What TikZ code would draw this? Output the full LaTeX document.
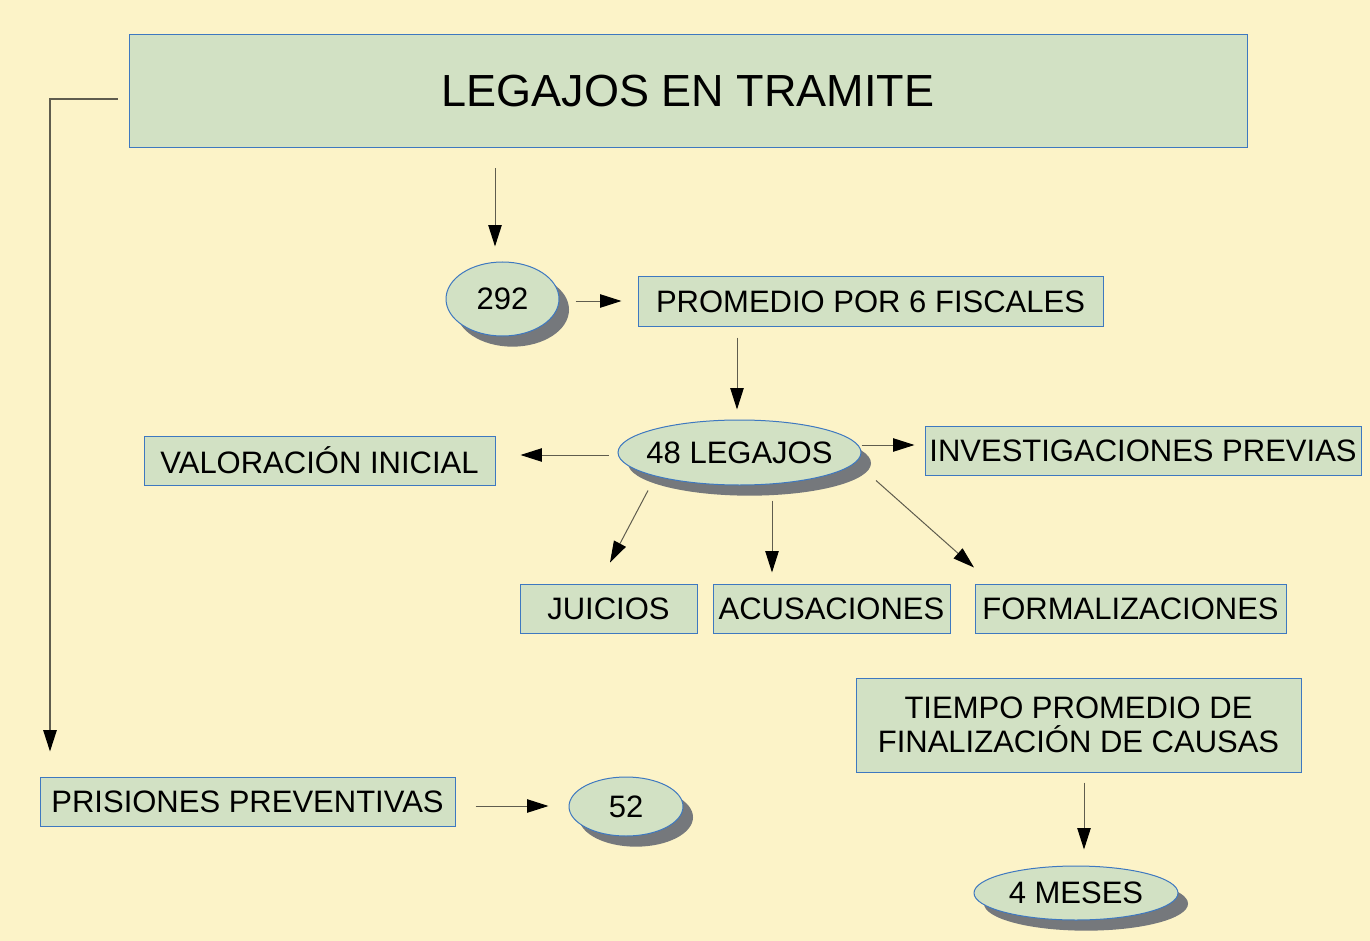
\documentclass[tikz,border=0pt]{standalone}
\usepackage{fontspec}
\setmainfont{Liberation Sans}
\usepackage{tikz}
\usetikzlibrary{arrows.meta, calc, shapes.geometric, shadows}

\definecolor{fondo}{RGB}{252,243,200}
\definecolor{verdecaja}{RGB}{210,225,196}
\definecolor{bordeazul}{RGB}{62,120,192}
\definecolor{sombra}{RGB}{117,120,124}
\definecolor{linea}{RGB}{95,92,78}

\tikzset{
  caja/.style={draw=bordeazul, fill=verdecaja, line width=0.75pt, inner sep=0pt,
    minimum height=36.75pt, font=\fontsize{23.25}{25.5}\selectfont},
  burbuja/.style={ellipse, draw=bordeazul, fill=verdecaja, line width=0.75pt, inner sep=0pt,
    font=\fontsize{23.25}{25.5}\selectfont,
    drop shadow={shadow xshift=7.5pt, shadow yshift=-8pt, fill=sombra, opacity=1}},
  flecha/.style={draw=linea, line width=0.75pt, -{Triangle[length=16pt,width=10pt,fill=black,color=black]}}
}

\begin{document}
\begin{tikzpicture}[x=0.75pt,y=-0.75pt]
  \fill[fondo] (0,0) rectangle (1370,941);
  \useasboundingbox (0,0) rectangle (1370,941);

  \node[caja, minimum width=838.5pt, minimum height=84.75pt,
    font=\fontsize{33.75}{40}\selectfont] (title) at (688,91.5) {LEGAJOS EN TRAMITE};

  \node[burbuja, minimum width=84.75pt, minimum height=55.5pt] (n292) at (502.5,299) {292};
  \node[caja, minimum width=348.75pt] (promedio) at (870.5,301.5) {PROMEDIO POR 6 FISCALES};

  \node[burbuja, inner xsep=-6pt, minimum width=182.25pt, minimum height=48.75pt] (legajos) at (739.5,452.5) {48 LEGAJOS};
  \node[caja, minimum width=263.25pt] (valoracion) at (319.5,460.5) {VALORACIÓN INICIAL};
  \node[caja, minimum width=327pt] (investigaciones) at (1143,450.5) {INVESTIGACIONES PREVIAS};

  \node[caja, minimum width=132.75pt] (juicios) at (608.5,608.5) {JUICIOS};
  \node[caja, minimum width=177.75pt] (acusaciones) at (831.5,608.5) {ACUSACIONES};
  \node[caja, minimum width=233.25pt] (formalizaciones) at (1130.5,608.5) {FORMALIZACIONES};

  \node[caja, minimum width=333.75pt, minimum height=70.5pt, align=center] (tiempo) at (1078.5,725)
    {TIEMPO PROMEDIO DE\\FINALIZACIÓN DE CAUSAS};
  \node[burbuja, minimum width=153pt, minimum height=40.5pt] (meses) at (1076,893) {4 MESES};

  \node[caja, minimum width=311.25pt] (prisiones) at (247.5,801.5) {PRISIONES PREVENTIVAS};
  \node[burbuja, minimum width=85.5pt, minimum height=44.25pt] (n52) at (626,806.5) {52};

  % conectores
  \draw[flecha] ($(title.south)+(-193,20)$) -- ($(n292.north)+(-7.5,-15)$);
  \draw[flecha] ($(n292.east)+(16,2)$) -- ($(promedio.west)+(-16,-0.5)$);
  \draw[flecha] ($(promedio.south)+(-133.5,11)$) -- ($(legajos.north)+(-2.5,-10)$);
  \draw[flecha] ($(legajos.west)+(-9,2.5)$) -- ($(valoracion.east)+(25,-5.5)$);
  \draw[flecha] ($(legajos.east)+(0,-7.5)$) -- ($(investigaciones.west)+(-10,-5.5)$);
  \draw[flecha] ($(legajos.south)+(-91.5,5)$) -- ($(juicios.north)+(1.5,-21)$);
  \draw[flecha] ($(legajos.south)+(32.5,15)$) -- ($(acusaciones.north)+(-59.5,-11)$);
  \draw[flecha] ($(legajos.south)+(136.5,-5)$) -- ($(formalizaciones.north)+(-156.5,-16)$);
  \draw[flecha] ($(tiempo.south)+(5.5,10)$) -- ($(meses.north)+(8,-16)$);
  \draw[flecha] ($(prisiones.east)+(20,4.5)$) -- ($(n52.west)+(-20,-0.5)$);
  \draw[flecha, line width=1.1pt] ($(title.west)+(-11,7.5)$) -| ($(prisiones.north)+(-197.5,-25)$);
\end{tikzpicture}
\end{document}
